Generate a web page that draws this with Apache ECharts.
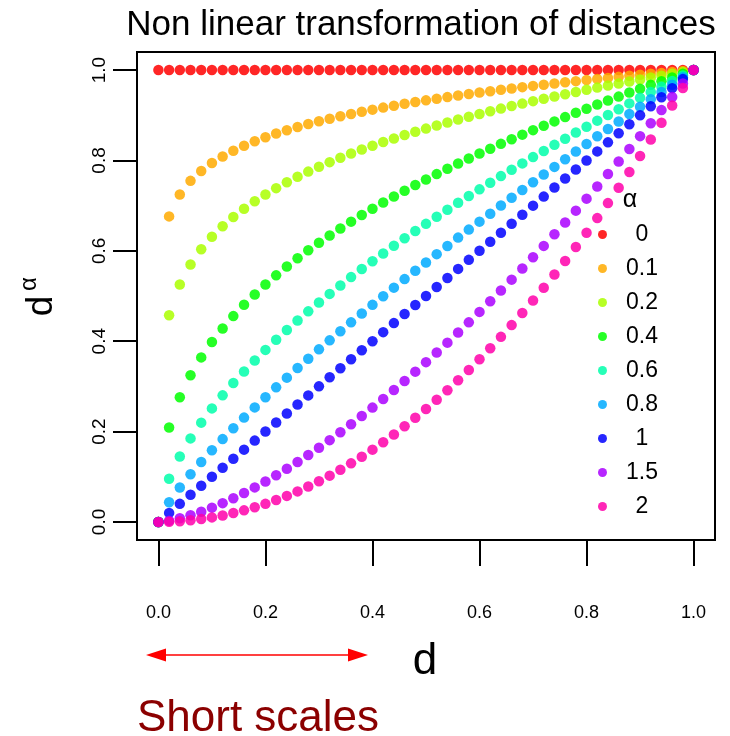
<!DOCTYPE html>
<html>
<head>
<meta charset="utf-8">
<script src="https://cdn.jsdelivr.net/npm/echarts@6/dist/echarts.min.js"></script>
<style>html,body{margin:0;padding:0;background:#fff;}#c{width:730px;height:736px;}</style>
</head>
<body>
<div id="c"></div>
<script>
// distances
const d = [0,0.02,0.04,0.06,0.08,0.10,0.12,0.14,0.16,0.18,0.20,0.22,0.24,0.26,0.28,0.30,0.32,0.34,0.36,0.38,0.40,0.42,0.44,0.46,0.48,0.50,0.52,0.54,0.56,0.58,0.60,0.62,0.64,0.66,0.68,0.70,0.72,0.74,0.76,0.78,0.80,0.82,0.84,0.86,0.88,0.90,0.92,0.94,0.96,0.98,1.00];
// transformed distances, one list per alpha
const y_a0 = [1,1,1,1,1,1,1,1,1,1,1,1,1,1,1,1,1,1,1,1,1,1,1,1,1,1,1,1,1,1,1,1,1,1,1,1,1,1,1,1,1,1,1,1,1,1,1,1,1,1,1];
const y_a01 = [0,0.6762,0.7248,0.7548,0.7768,0.7943,0.8089,0.8215,0.8326,0.8424,0.8513,0.8595,0.8670,0.8740,0.8805,0.8866,0.8923,0.8977,0.9029,0.9078,0.9124,0.9169,0.9212,0.9253,0.9292,0.9330,0.9367,0.9402,0.9437,0.9470,0.9502,0.9533,0.9564,0.9593,0.9622,0.9650,0.9677,0.9703,0.9729,0.9755,0.9779,0.9804,0.9827,0.9850,0.9873,0.9895,0.9917,0.9938,0.9959,0.9980,1];
const y_a02 = [0,0.4573,0.5253,0.5697,0.6034,0.6310,0.6543,0.6749,0.6932,0.7096,0.7248,0.7387,0.7517,0.7639,0.7753,0.7861,0.7962,0.8059,0.8152,0.8241,0.8325,0.8407,0.8486,0.8562,0.8634,0.8705,0.8774,0.8840,0.8906,0.8968,0.9029,0.9088,0.9147,0.9203,0.9258,0.9312,0.9364,0.9415,0.9465,0.9516,0.9563,0.9612,0.9657,0.9702,0.9748,0.9791,0.9835,0.9876,0.9918,0.9960,1];
const y_a04 = [0,0.2091,0.2759,0.3246,0.3641,0.3982,0.4281,0.4555,0.4805,0.5035,0.5253,0.5457,0.5651,0.5835,0.6011,0.6180,0.6339,0.6495,0.6646,0.6791,0.6931,0.7068,0.7201,0.7331,0.7455,0.7578,0.7698,0.7815,0.7932,0.8043,0.8152,0.8259,0.8367,0.8470,0.8571,0.8671,0.8768,0.8864,0.8959,0.9055,0.9145,0.9239,0.9326,0.9413,0.9502,0.9586,0.9673,0.9754,0.9837,0.9920,1];
const y_a06 = [0,0.0956,0.1449,0.1849,0.2197,0.2513,0.2801,0.3074,0.3331,0.3573,0.3807,0.4031,0.4248,0.4457,0.4660,0.4858,0.5047,0.5234,0.5418,0.5597,0.5770,0.5942,0.6111,0.6277,0.6437,0.6597,0.6754,0.6908,0.7064,0.7213,0.7360,0.7506,0.7653,0.7795,0.7935,0.8074,0.8210,0.8345,0.8480,0.8617,0.8745,0.8881,0.9006,0.9132,0.9263,0.9386,0.9513,0.9633,0.9756,0.9880,1];
const y_a08 = [0,0.0437,0.0761,0.1054,0.1326,0.1586,0.1833,0.2075,0.2309,0.2535,0.2759,0.2978,0.3193,0.3405,0.3613,0.3819,0.4018,0.4219,0.4417,0.4612,0.4804,0.4996,0.5185,0.5374,0.5558,0.5743,0.5926,0.6107,0.6292,0.6469,0.6646,0.6821,0.7001,0.7174,0.7346,0.7519,0.7688,0.7857,0.8026,0.8199,0.8363,0.8536,0.8697,0.8860,0.9029,0.9189,0.9357,0.9514,0.9677,0.9841,1];
const y_a1 = [0,0.02,0.04,0.06,0.08,0.10,0.12,0.14,0.16,0.18,0.20,0.22,0.24,0.26,0.28,0.30,0.32,0.34,0.36,0.38,0.40,0.42,0.44,0.46,0.48,0.50,0.52,0.54,0.56,0.58,0.60,0.62,0.64,0.66,0.68,0.70,0.72,0.74,0.76,0.78,0.80,0.82,0.84,0.86,0.88,0.90,0.92,0.94,0.96,0.98,1];
const y_a15 = [0,0.0028,0.0080,0.0147,0.0226,0.0316,0.0416,0.0524,0.0640,0.0764,0.0894,0.1032,0.1176,0.1326,0.1482,0.1643,0.1810,0.1983,0.2160,0.2343,0.2530,0.2722,0.2919,0.3120,0.3326,0.3536,0.3750,0.3968,0.4191,0.4417,0.4648,0.4882,0.5120,0.5362,0.5607,0.5857,0.6109,0.6366,0.6626,0.6889,0.7155,0.7425,0.7699,0.7975,0.8255,0.8538,0.8824,0.9114,0.9406,0.9702,1];
const y_a2 = [0,0.0004,0.0016,0.0036,0.0064,0.0100,0.0144,0.0196,0.0256,0.0324,0.0400,0.0484,0.0576,0.0676,0.0784,0.0900,0.1024,0.1156,0.1296,0.1444,0.1600,0.1764,0.1936,0.2116,0.2304,0.2500,0.2704,0.2916,0.3136,0.3364,0.3600,0.3844,0.4096,0.4356,0.4624,0.4900,0.5184,0.5476,0.5776,0.6084,0.6400,0.6724,0.7056,0.7396,0.7744,0.8100,0.8464,0.8836,0.9216,0.9604,1];

const alphaNames = ['0','0.1','0.2','0.4','0.6','0.8','1','1.5','2'];
const alphaValues = [y_a0, y_a01, y_a02, y_a04, y_a06, y_a08, y_a1, y_a15, y_a2];
const colors = ['#FF0000','#FFAA00','#AAFF00','#00FF00','#00FFAA','#00AAFF','#0000FF','#AA00FF','#FF00AA'];

const tickValues = [0, 0.2, 0.4, 0.6, 0.8, 1.0];
const tickLabels = ['0.0', '0.2', '0.4', '0.6', '0.8', '1.0'];

const FONT = 'Liberation Sans, Arial, Helvetica, sans-serif';
const fmt = v => { const i = tickValues.findIndex(t => Math.abs(t - v) < 1e-9); return i >= 0 ? tickLabels[i] : ''; };

const chart = echarts.init(document.getElementById('c'), null, {renderer: 'canvas'});

const series = alphaNames.map((name, k) => ({
  name: name,
  type: 'scatter',
  symbol: 'circle',
  symbolSize: 10.5,
  data: d.map((x, i) => [x, alphaValues[k][i]]),
  itemStyle: {color: colors[k], opacity: 0.85},
  emphasis: {disabled: true},
  silent: true
}));

chart.setOption({
  animation: false,
  backgroundColor: '#fff',
  textStyle: {fontFamily: FONT},
  grid: {left: 137, top: 52, width: 578, height: 488, show: true, borderColor: '#000', borderWidth: 2, backgroundColor: 'transparent'},
  xAxis: {
    type: 'value', min: -0.04, max: 1.04,
    axisLine: {show: true, onZero: false, lineStyle: {color: '#000', width: 2}},
    axisTick: {show: true, inside: false, customValues: tickValues, length: 26, lineStyle: {color: '#000', width: 2}},
    axisLabel: {show: true, customValues: tickValues, formatter: fmt, margin: 64, color: '#000', fontSize: 18, fontFamily: FONT},
    splitLine: {show: false}
  },
  yAxis: {
    type: 'value', min: -0.04, max: 1.04,
    axisLine: {show: true, onZero: false, lineStyle: {color: '#000', width: 2}},
    axisTick: {show: true, inside: false, customValues: tickValues, length: 24, lineStyle: {color: '#000', width: 2}},
    axisLabel: {show: true, customValues: tickValues, formatter: fmt, rotate: 90, margin: 28, color: '#000', fontSize: 19, fontFamily: FONT},
    splitLine: {show: false}
  },
  legend: {
    orient: 'vertical', left: 598, top: 223, padding: 0,
    icon: 'circle', itemWidth: 9, itemHeight: 9, itemGap: 11,
    selectedMode: false,
    data: alphaNames,
    formatter: '{c|{name}}',
    textStyle: {color: '#000', fontFamily: FONT, rich: {c: {width: 60, align: 'center', fontSize: 23, lineHeight: 24, color: '#000', fontFamily: FONT}}}
  },
  graphic: [
    {type: 'text', x: 421, y: 25, style: {text: 'Non linear transformation of distances', fontSize: 35, fontFamily: FONT, fill: '#000', align: 'center', verticalAlign: 'middle'}},
    {type: 'text', x: 630, y: 200, style: {text: 'α', fontSize: 25, fontFamily: FONT, fill: '#000', align: 'center', verticalAlign: 'middle'}},
    {type: 'text', x: 42, y: 306, rotation: Math.PI / 2, style: {text: 'd', fontSize: 37, fontFamily: FONT, fill: '#000', align: 'center', verticalAlign: 'middle'}},
    {type: 'text', x: 29, y: 284, rotation: Math.PI / 2, style: {text: 'α', fontSize: 24, fontFamily: FONT, fill: '#000', align: 'center', verticalAlign: 'middle'}},
    {type: 'text', x: 425, y: 662, style: {text: 'd', fontSize: 44, fontFamily: FONT, fill: '#000', align: 'center', verticalAlign: 'middle'}},
    {type: 'line', shape: {x1: 164, y1: 655, x2: 350, y2: 655}, style: {stroke: '#FF0000', lineWidth: 1.5}},
    {type: 'polygon', shape: {points: [[146, 655], [166, 648.5], [166, 661.5]]}, style: {fill: '#FF0000'}},
    {type: 'polygon', shape: {points: [[368, 655], [348, 648.5], [348, 661.5]]}, style: {fill: '#FF0000'}},
    {type: 'text', x: 258, y: 719, style: {text: 'Short scales', fontSize: 44, fontFamily: FONT, fill: '#8B0000', align: 'center', verticalAlign: 'middle'}}
  ],
  series: series
});
</script>
</body>
</html>
